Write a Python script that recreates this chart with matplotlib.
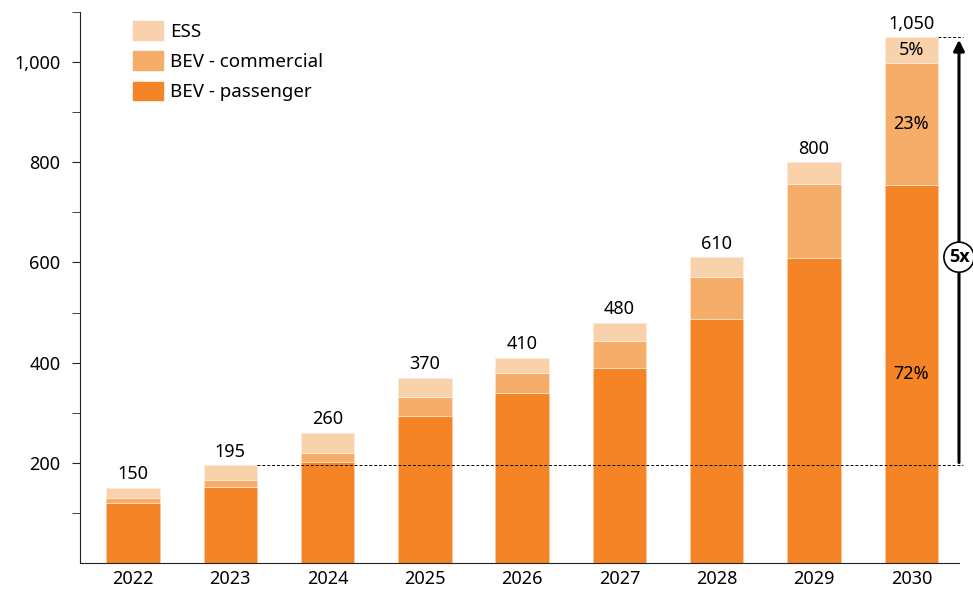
import matplotlib.pyplot as plt
from matplotlib.patches import Patch, Ellipse

plt.rcParams['font.family'] = ['Noto Sans', 'DejaVu Sans']

years = ["2022", "2023", "2024", "2025", "2026", "2027", "2028", "2029", "2030"]
bev_passenger = [119, 151, 202, 293, 340, 389, 488, 609, 755]
bev_commercial = [10, 15, 18, 39, 40, 55, 82, 148, 243]
ess = [21, 29, 40, 38, 30, 36, 40, 43, 52]
totals = [150, 195, 260, 370, 410, 480, 610, 800, 1050]
share_labels = ["72%", "23%", "5%"]

c_pass = "#F58426"
c_comm = "#F6AD6A"
c_ess = "#F9D2AC"

fig = plt.figure(figsize=(9.73, 5.91), dpi=100)
ax = fig.add_axes([0.0822, 0.0474, 0.9034, 0.9323])

x = list(range(len(years)))
w = 0.55
b2 = [p + c for p, c in zip(bev_passenger, bev_commercial)]
ax.bar(x, bev_passenger, w, color=c_pass, edgecolor="#FBC9A0", linewidth=0.6)
ax.bar(x, bev_commercial, w, bottom=bev_passenger, color=c_comm, edgecolor="#FCE0C6", linewidth=0.6)
ax.bar(x, ess, w, bottom=b2, color=c_ess, edgecolor="#FDEBDA", linewidth=0.6)

for i, t in enumerate(totals):
    ax.text(i, t + 9, f"{t:,}", ha="center", va="bottom", fontsize=13)

# shares in the last bar
last = len(years) - 1
ax.text(last, bev_passenger[last] * 0.5, share_labels[0], ha="center", va="center", fontsize=13)
ax.text(last, bev_passenger[last] + bev_commercial[last] / 2, share_labels[1], ha="center", va="center", fontsize=13)
ax.text(last, b2[last] + ess[last] / 2, share_labels[2], ha="center", va="center", fontsize=13)

# growth marker
ax.plot([1 + w / 2, 8.53], [totals[1], totals[1]], color="black", lw=0.7, dashes=(3, 2), clip_on=False)
ax.plot([last + w / 2, 8.53], [totals[last], totals[last]], color="black", lw=0.7, dashes=(3, 2), clip_on=False)
ax.annotate("", xy=(8.49, totals[last]), xytext=(8.49, totals[1]),
            arrowprops=dict(arrowstyle="-|>", color="black", lw=2.2, mutation_scale=16), annotation_clip=False)
ymid = (totals[1] + totals[last]) / 2 - 12
ax.add_patch(Ellipse((8.49, ymid), 0.31, 60, facecolor="white", edgecolor="black", lw=1.2, clip_on=False, zorder=5))
ax.text(8.49, ymid, "5x", ha="center", va="center", fontsize=13, fontweight="bold",
        family=["Open Sans", "DejaVu Sans"], zorder=6, clip_on=False)

ax.set_xlim(-0.545, 8.49)
ax.set_ylim(0, 1100)
ax.set_xticks(x)
ax.set_xticklabels(years, fontsize=13)
ax.set_yticks([200, 400, 600, 800, 1000])
ax.set_yticklabels(["200", "400", "600", "800", "1,000"], fontsize=13)
ax.set_yticks([100, 300, 500, 700, 900, 1100], minor=True)
ax.tick_params(axis="y", which="both", length=6, color="#222222")
ax.tick_params(axis="y", which="major", pad=8)
ax.tick_params(axis="x", length=0, pad=5)
for s in ["top", "right"]:
    ax.spines[s].set_visible(False)
ax.spines["left"].set_color("#222222")
ax.spines["bottom"].set_color("#222222")

handles = [Patch(color=c_ess, label="ESS"), Patch(color=c_comm, label="BEV - commercial"),
           Patch(color=c_pass, label="BEV - passenger")]
ax.legend(handles=handles, loc="upper left", bbox_to_anchor=(0.05, 1.0), frameon=False, fontsize=13.5,
          borderpad=0, handlelength=1.6, handleheight=1.17, labelspacing=0.55, handletextpad=0.37)

fig.savefig("out.png", dpi=100)
